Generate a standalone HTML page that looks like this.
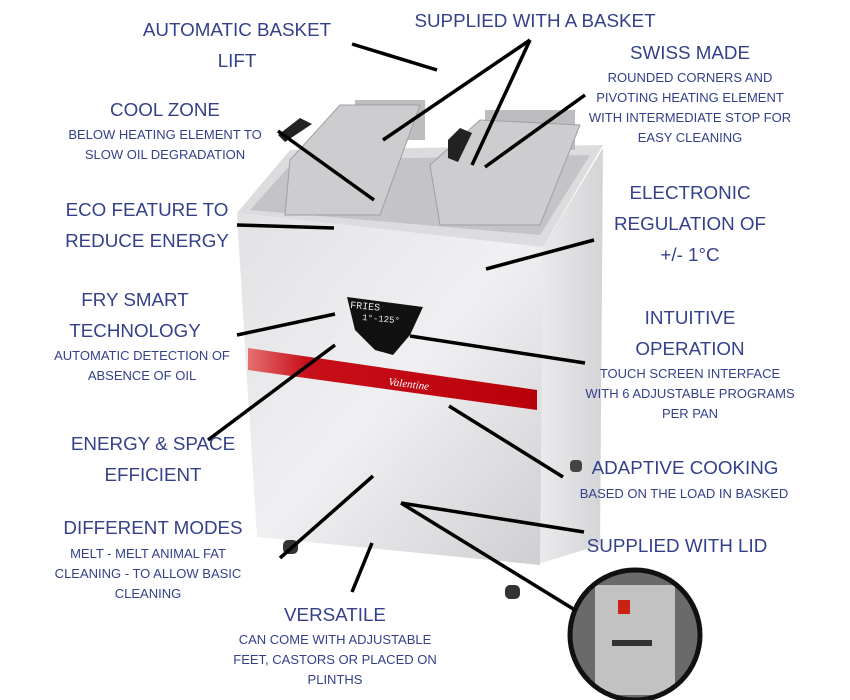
<!DOCTYPE html>
<html><head><meta charset="utf-8"><style>
body{margin:0;width:850px;height:700px;background:#fff;position:relative;overflow:hidden;font-family:"Liberation Sans",sans-serif;color:#34418a}
.t{position:absolute;text-align:center;white-space:nowrap;transform:translateX(-50%)}
.b{font-size:18.8px;line-height:31px}
.s{font-size:13px;line-height:20px}
svg{position:absolute;left:0;top:0}
</style></head><body>
<svg width="850" height="700" viewBox="0 0 850 700">
<defs>
<linearGradient id="g1" x1="0" y1="0" x2="1" y2="1"><stop offset="0" stop-color="#e2e2e4"/><stop offset=".5" stop-color="#f0f0f2"/><stop offset="1" stop-color="#cfcfd2"/></linearGradient>
<linearGradient id="g2" x1="0" y1="0" x2="1" y2="0"><stop offset="0" stop-color="#ececee"/><stop offset="1" stop-color="#d4d4d7"/></linearGradient>
<linearGradient id="r" x1="0" y1="0" x2="1" y2="0"><stop offset="0" stop-color="#e57070"/><stop offset=".2" stop-color="#c8101a"/><stop offset="1" stop-color="#b8000a"/></linearGradient>
<clipPath id="cc"><circle cx="635" cy="635" r="63"/></clipPath>
</defs>
<polygon points="543,247 603,148 600,545 535,565" fill="url(#g2)"/>
<polygon points="237,213 290,150 603,145 543,247" fill="#dcdcde"/>
<polygon points="250,210 295,160 590,155 540,235" fill="#c4c4c7"/>
<rect x="355" y="100" width="70" height="40" fill="#bdbdc0"/>
<rect x="485" y="110" width="90" height="40" fill="#bdbdc0"/>
<polygon points="290,160 340,105 420,105 380,215 285,215" fill="#cdcdd0" stroke="#a0a0a4"/>
<polygon points="430,165 480,120 580,125 540,225 440,225" fill="#cdcdd0" stroke="#a0a0a4"/>
<polygon points="278,135 300,118 312,124 285,142" fill="#222"/>
<polygon points="448,140 460,128 472,133 458,162 448,158" fill="#222"/>
<polygon points="237,213 543,247 540,565 257,537 245,348" fill="url(#g1)"/>
<polygon points="248,348 537,390 537,410 248,370" fill="url(#r)"/>
<text x="388" y="385" font-family="Liberation Serif" font-style="italic" font-size="11" fill="#fff" transform="rotate(7 388 385)">Valentine</text>
<polygon points="347,297 423,307 410,335 393,355 375,350 355,330" fill="#111"/>
<text x="350" y="308" font-family="Liberation Mono" font-size="10" fill="#eee" transform="rotate(5 350 308)">FRIES</text>
<text x="362" y="320" font-family="Liberation Mono" font-size="9" fill="#eee" transform="rotate(5 362 320)">1°-125°</text>
<rect x="283" y="540" width="15" height="14" rx="5" fill="#333"/>
<rect x="505" y="585" width="15" height="14" rx="5" fill="#333"/>
<rect x="570" y="460" width="12" height="12" rx="4" fill="#444"/>
<g clip-path="url(#cc)">
<rect x="560" y="560" width="150" height="150" fill="#6a6a6a"/>
<rect x="595" y="585" width="80" height="110" fill="#c2c2c2"/>
<rect x="618" y="600" width="12" height="14" fill="#c21"/>
<rect x="612" y="640" width="40" height="6" fill="#333"/>
</g>
<circle cx="635" cy="635" r="65" fill="none" stroke="#111" stroke-width="5"/>
<g stroke="#000" stroke-width="3.5">
<line x1="352" y1="44" x2="437" y2="70"/>
<line x1="530" y1="40" x2="383" y2="140"/>
<line x1="530" y1="40" x2="472" y2="165"/>
<line x1="585" y1="95" x2="485" y2="167"/>
<line x1="278" y1="131" x2="374" y2="200"/>
<line x1="237" y1="225" x2="334" y2="228"/>
<line x1="594" y1="240" x2="486" y2="269"/>
<line x1="237" y1="335" x2="335" y2="314"/>
<line x1="410" y1="336" x2="585" y2="363"/>
<line x1="208" y1="440" x2="335" y2="345"/>
<line x1="449" y1="406" x2="563" y2="477"/>
<line x1="280" y1="558" x2="373" y2="476"/>
<line x1="401" y1="503" x2="584" y2="532"/>
<line x1="401" y1="503" x2="575" y2="610"/>
<line x1="372" y1="543" x2="352" y2="592"/>
</g>
</svg>
<div class="t b" style="left:237px;top:14px">AUTOMATIC BASKET<br>LIFT</div>
<div class="t b" style="left:535px;top:5px">SUPPLIED WITH A BASKET</div>
<div class="t b" style="left:690px;top:37px">SWISS MADE</div>
<div class="t s" style="left:690px;top:68px">ROUNDED CORNERS AND<br>PIVOTING HEATING ELEMENT<br>WITH INTERMEDIATE STOP FOR<br>EASY CLEANING</div>
<div class="t b" style="left:165px;top:94px">COOL ZONE</div>
<div class="t s" style="left:165px;top:125px">BELOW HEATING ELEMENT TO<br>SLOW OIL DEGRADATION</div>
<div class="t b" style="left:147px;top:194px">ECO FEATURE TO<br>REDUCE ENERGY</div>
<div class="t b" style="left:690px;top:177px">ELECTRONIC<br>REGULATION OF<br>+/- 1°C</div>
<div class="t b" style="left:135px;top:284px">FRY SMART<br>TECHNOLOGY</div>
<div class="t s" style="left:142px;top:346px">AUTOMATIC DETECTION OF<br>ABSENCE OF OIL</div>
<div class="t b" style="left:690px;top:302px">INTUITIVE<br>OPERATION</div>
<div class="t s" style="left:690px;top:364px">TOUCH SCREEN INTERFACE<br>WITH 6 ADJUSTABLE PROGRAMS<br>PER PAN</div>
<div class="t b" style="left:153px;top:428px">ENERGY &amp; SPACE<br>EFFICIENT</div>
<div class="t b" style="left:685px;top:452px">ADAPTIVE COOKING</div>
<div class="t s" style="left:684px;top:484px">BASED ON THE LOAD IN BASKED</div>
<div class="t b" style="left:153px;top:512px">DIFFERENT MODES</div>
<div class="t s" style="left:148px;top:544px">MELT - MELT ANIMAL FAT<br>CLEANING - TO ALLOW BASIC<br>CLEANING</div>
<div class="t b" style="left:677px;top:530px">SUPPLIED WITH LID</div>
<div class="t b" style="left:335px;top:599px">VERSATILE</div>
<div class="t s" style="left:335px;top:630px">CAN COME WITH ADJUSTABLE<br>FEET, CASTORS OR PLACED ON<br>PLINTHS</div>
</body></html>
